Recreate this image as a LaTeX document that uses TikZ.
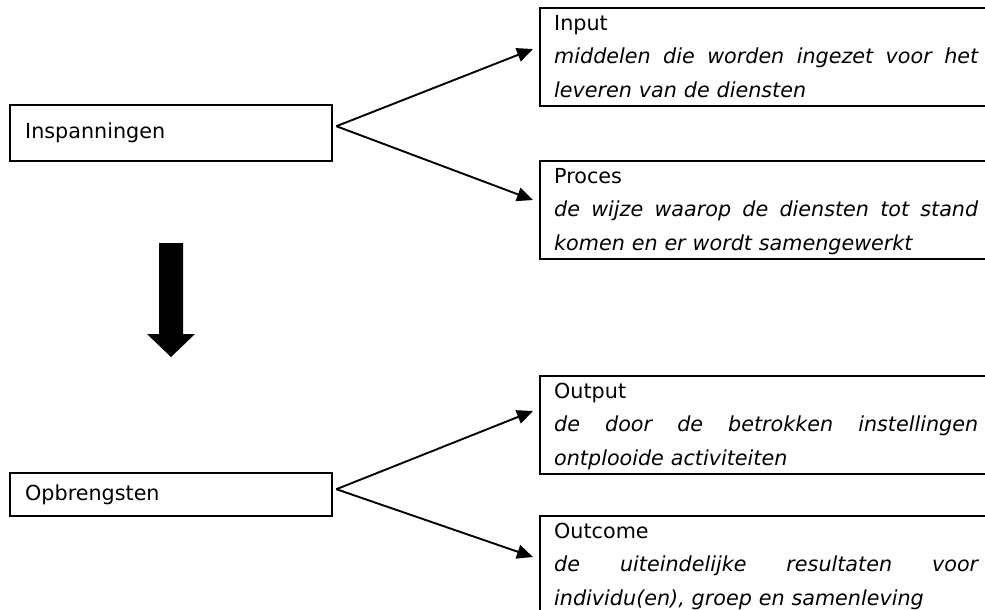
\documentclass[tikz,border=0pt]{standalone}
\usepackage{fontspec}
\setmainfont{DejaVu Sans}
\usetikzlibrary{arrows.meta}
\newcommand{\jline}[1]{\makebox[424pt][s]{\spaceskip=0.33em plus 20em\relax\xspaceskip=0.33em plus 20em\relax #1}}
\tikzset{
  txt/.style={font=\fontsize{20.7}{33.5}\selectfont},
  leftbox/.style={draw, line width=2.4pt, anchor=north west, inner xsep=15pt, inner ysep=0pt,
    text width=292pt, align=left, txt},
  rightbox/.style={draw, line width=2.4pt, anchor=north west, inner xsep=14pt, inner ysep=0pt,
    text width=424pt, align=left, text height=22pt, text depth=76pt, txt},
  conn/.style={line width=1.9pt, -{Triangle[length=16pt,width=14pt]}},
  bigarrow/.style={fill=black}
}
\begin{document}
\begin{tikzpicture}[x=1pt,y=-1pt]
\useasboundingbox (0,0) rectangle (985,610);
\clip (0,0) rectangle (985,610);

% left boxes
\node[leftbox, text height=33pt, text depth=23pt] (insp) at (9,104) {Inspanningen};
\node[leftbox, text height=27pt, text depth=16pt] (opbr) at (9,472) {Opbrengsten};

% right boxes
\node[rightbox] (input) at (539,7) {Input\\\textit{\jline{middelen die worden ingezet voor het}}\\\textit{leveren van de diensten}};
\node[rightbox] (proces) at (539,160) {Proces\\\textit{\jline{de wijze waarop de diensten tot stand}}\\\textit{komen en er wordt samengewerkt}};
\node[rightbox] (output) at (539,375) {Output\\\textit{\jline{de door de betrokken instellingen}}\\\textit{ontplooide activiteiten}};
\node[rightbox] (outcome) at (539,515) {Outcome\\\textit{\jline{de uiteindelijke resultaten voor}}\\\textit{individu(en), groep en samenleving}};

% connector points
\coordinate (a1) at ([xshift=3pt,yshift=7pt]insp.east);
\coordinate (a2) at ([xshift=3pt,yshift=5.5pt]opbr.east);
\coordinate (tIn) at ([xshift=-6pt,yshift=-42pt]input.north west);
\coordinate (tPr) at ([xshift=-6pt,yshift=-40pt]proces.north west);
\coordinate (tOu) at ([xshift=-6pt,yshift=-36pt]output.north west);
\coordinate (tOc) at ([xshift=-6pt,yshift=-42pt]outcome.north west);

\draw[conn] (a1) -- (tIn);
\draw[conn] (a1) -- (tPr);
\draw[conn] (a2) -- (tOu);
\draw[conn] (a2) -- (tOc);

% block arrow
\fill[bigarrow] (159,243) -- (183,243) -- (183,334) -- (195,334) -- (171,357)
  -- (147,334) -- (159,334) -- cycle;
\end{tikzpicture}
\end{document}
